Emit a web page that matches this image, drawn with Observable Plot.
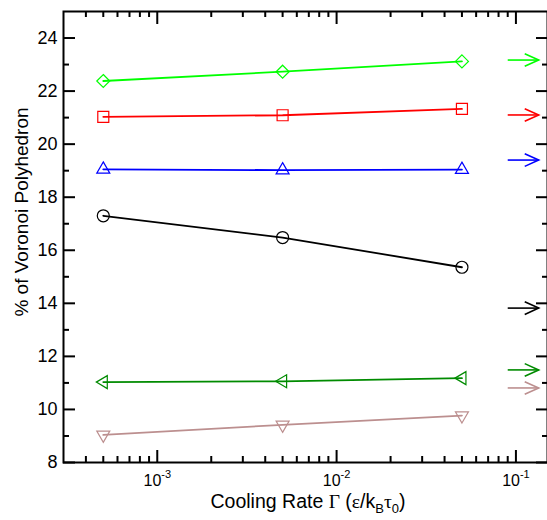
<!DOCTYPE html>
<html>
<head>
<meta charset="utf-8">
<script src="https://cdn.jsdelivr.net/npm/d3@7"></script>
<script src="https://cdn.jsdelivr.net/npm/@observablehq/plot@0.6"></script>
<style>
  html, body { margin: 0; padding: 0; background: #fff; }
  #chart svg { display: block; }
</style>
</head>
<body>
<div id="chart"></div>
<script>
// ---- data ----
const coolingRates = [5e-4, 5e-3, 5e-2];
const diamondPct      = [22.38, 22.73, 23.12];
const squarePct       = [21.03, 21.09, 21.33];
const triangleUpPct   = [19.05, 19.02, 19.04];
const circlePct       = [17.30, 16.48, 15.36];
const triangleLeftPct = [11.03, 11.06, 11.18];
const triangleDownPct = [9.04, 9.42, 9.77];
const arrowPct        = [23.17, 21.10, 19.40, 13.82, 11.49, 10.81];
const arrowRates      = [0.09, 0.134]; // shaft start, tip
const seriesColors    = ["#00ff00", "#ff0000", "#0000ff", "#000000", "#008b00", "#bc8f8f"];
const yTicks      = [8, 10, 12, 14, 16, 18, 20, 22, 24];
const yMinorTicks = [9, 11, 13, 15, 17, 19, 21, 23];
const xTicks      = [1e-3, 1e-2, 1e-1];
const xMinorTicks = [4e-4, 5e-4, 6e-4, 7e-4, 8e-4, 9e-4,
                     2e-3, 3e-3, 4e-3, 5e-3, 6e-3, 7e-3, 8e-3, 9e-3,
                     2e-2, 3e-2, 4e-2, 5e-2, 6e-2, 7e-2, 8e-2, 9e-2];

// ---- marker shapes (open symbols) ----
const sym = {
  diamond: {draw(c) { const r = 6.5; c.moveTo(0, -r); c.lineTo(r, 0); c.lineTo(0, r); c.lineTo(-r, 0); c.closePath(); }},
  square: {draw(c) { const h = 5.5; c.moveTo(-h, -h); c.lineTo(h, -h); c.lineTo(h, h); c.lineTo(-h, h); c.closePath(); }},
  triUp: {draw(c) { c.moveTo(0, -7.5); c.lineTo(6.5, 3.75); c.lineTo(-6.5, 3.75); c.closePath(); }},
  circle: {draw(c) { c.moveTo(6, 0); c.arc(0, 0, 6, 0, 2 * Math.PI); c.closePath(); }},
  triLeft: {draw(c) { c.moveTo(-7, 0); c.lineTo(4, -6.5); c.lineTo(4, 6.5); c.closePath(); }},
  triDown: {draw(c) { c.moveTo(0, 7.5); c.lineTo(6.5, -3.75); c.lineTo(-6.5, -3.75); c.closePath(); }},
  chevron: {draw(c) { c.moveTo(-14, -6.3); c.lineTo(0, 0); c.lineTo(-14, 6.3); }}
};

const seriesValues = [diamondPct, squarePct, triangleUpPct, circlePct, triangleLeftPct, triangleDownPct];
const seriesSymbols = [sym.diamond, sym.square, sym.triUp, sym.circle, sym.triLeft, sym.triDown];

const W = 547, H = 520, mL = 63, mR = 0, mT = 11, mB = 58;
const innerW = W - mL - mR, innerH = H - mT - mB;

const marks = [];
seriesValues.forEach((vals, i) => {
  const data = coolingRates.map((x, j) => ({x, y: vals[j]}));
  marks.push(Plot.line(data, {x: "x", y: "y", stroke: seriesColors[i], strokeWidth: 1.8}));
  marks.push(Plot.dot(data, {x: "x", y: "y", symbol: seriesSymbols[i], stroke: seriesColors[i], fill: "none", strokeWidth: 1.2}));
});
const arrowData = arrowPct.map((y, i) => ({y, color: seriesColors[i]}));
marks.push(Plot.link(arrowData, {x1: () => arrowRates[0], x2: () => arrowRates[1], y1: "y", y2: "y", stroke: "color", strokeWidth: 1.6}));
marks.push(Plot.dot(arrowData, {x: () => arrowRates[1], y: "y", symbol: sym.chevron, stroke: "color", fill: "none", strokeWidth: 1.6}));

// ticks (inward on all four sides)
marks.push(Plot.tickY(yTicks, {y: d => d, stroke: "#000", strokeWidth: 2, insetRight: innerW - 12}));
marks.push(Plot.tickY(yMinorTicks, {y: d => d, stroke: "#000", strokeWidth: 2, insetRight: innerW - 6}));
marks.push(Plot.tickY(yTicks, {y: d => d, stroke: "#000", strokeWidth: 2, insetLeft: innerW - 11}));
marks.push(Plot.tickY(yMinorTicks, {y: d => d, stroke: "#000", strokeWidth: 2, insetLeft: innerW - 5}));
marks.push(Plot.tickX(xTicks, {x: d => d, stroke: "#000", strokeWidth: 2, insetTop: innerH - 12}));
marks.push(Plot.tickX(xMinorTicks, {x: d => d, stroke: "#000", strokeWidth: 2, insetTop: innerH - 6}));
marks.push(Plot.tickX(xTicks, {x: d => d, stroke: "#000", strokeWidth: 2, insetBottom: innerH - 13}));
marks.push(Plot.tickX(xMinorTicks, {x: d => d, stroke: "#000", strokeWidth: 2, insetBottom: innerH - 6}));
marks.push(Plot.frame({stroke: "#000", strokeWidth: 2}));

marks.push(Plot.axisY({ticks: yTicks, tickSize: 0, tickPadding: 6, fontSize: 18, label: null}));
marks.push(Plot.axisX({ticks: xTicks, tickSize: 0, tickPadding: 12, fontSize: 16, label: null,
  tickFormat: d => "10^" + Math.round(Math.log10(d))}));

const chart = Plot.plot({
  width: W, height: H,
  marginLeft: mL, marginRight: mR, marginTop: mT, marginBottom: mB,
  x: {type: "log", domain: [3e-4, 0.15]},
  y: {domain: [8, 25]},
  style: {fontFamily: "'Liberation Sans', Arial, sans-serif", background: "#fff", color: "#000"},
  marks
});
document.getElementById("chart").appendChild(chart);

// superscripts on x tick labels
const svg = d3.select(chart);
svg.selectAll('g[aria-label="x-axis tick label"] text').each(function() {
  const t = d3.select(this);
  const [base, exp] = t.text().split("^");
  t.text(base);
  t.append("tspan").attr("dy", -8).attr("font-size", 11).text(exp);
});

// axis titles
const xt = svg.append("text")
  .attr("x", (mL + W - mR) / 2 + 3).attr("y", 508)
  .attr("text-anchor", "middle").attr("font-size", 19.5).attr("fill", "#000");
xt.append("tspan").text("Cooling Rate ");
xt.append("tspan").attr("font-family", "'Liberation Serif', serif").text("Γ");
xt.append("tspan").text(" (");
xt.append("tspan").attr("font-family", "'Liberation Serif', serif").text("ε");
xt.append("tspan").text("/k");
xt.append("tspan").attr("font-size", 13).attr("dy", 5).text("B");
xt.append("tspan").attr("dy", -5).attr("font-family", "'Liberation Serif', serif").text("τ");
xt.append("tspan").attr("font-size", 13).attr("dy", 5).text("0");
xt.append("tspan").attr("dy", -5).text(")");

svg.append("text")
  .attr("transform", "translate(28,212) rotate(-90)")
  .attr("text-anchor", "middle").attr("font-size", 19).attr("fill", "#000")
  .text("% of Voronoi Polyhedron");
</script>
</body>
</html>
